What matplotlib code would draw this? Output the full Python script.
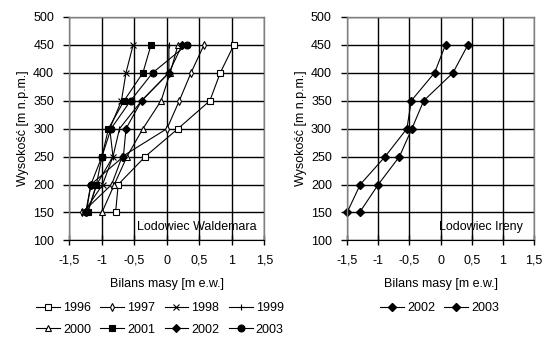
import numpy as np
import matplotlib.pyplot as plt

plt.rcParams['font.family'] = ['Liberation Sans', 'DejaVu Sans']
plt.rcParams['font.size'] = 9

heights = [150, 200, 250, 300, 350, 400, 450]

# Lodowiec Waldemara
wal_years = ['1996', '1997', '1998', '1999', '2000', '2001', '2002', '2003']
wal_1996 = [-0.79, -0.75, -0.335, 0.17, 0.66, 0.82, 1.03]
wal_1997 = [-1.30, -0.85, -0.69, 0.00, 0.19, 0.37, 0.57]
wal_1998 = [-1.28, -0.99, -0.83, -0.88, -0.70, -0.63, -0.52]
wal_1999 = [-1.22, -1.08, -0.83, -0.73, -0.39, 0.03, 0.03]
wal_2000 = [-1.00, -0.81, -0.615, -0.37, -0.09, 0.05, 0.17]
wal_2001 = [-1.22, -1.085, -1.00, -0.90, -0.66, -0.37, -0.245]
wal_2002 = [-1.25, -1.17, -0.67, -0.63, -0.39, 0.03, 0.235]
wal_2003 = [-1.24, -1.17, -1.00, -0.86, -0.56, -0.22, 0.305]
wal_series = [wal_1996, wal_1997, wal_1998, wal_1999, wal_2000, wal_2001, wal_2002, wal_2003]

# Lodowiec Ireny
ire_years = ['2002', '2003']
ire_2002 = [-1.50, -1.29, -0.89, -0.54, -0.47, -0.096, 0.08]
ire_2003 = [-1.30, -1.00, -0.66, -0.46, -0.27, 0.20, 0.44]
ire_series = [ire_2002, ire_2003]

xticks = [-1.5, -1, -0.5, 0, 0.5, 1, 1.5]
xlabels = ['-1,5', '-1', '-0,5', '0', '0,5', '1', '1,5']
yticks = [100, 150, 200, 250, 300, 350, 400, 450, 500]

wal_styles = [
    dict(marker='s', mfc='white', ms=4),
    dict(marker='d', mfc='white', ms=4),
    dict(marker='x', mfc='black', ms=4),
    dict(marker='+', mfc='black', ms=5),
    dict(marker='^', mfc='white', ms=4),
    dict(marker='s', mfc='black', ms=5),
    dict(marker='D', mfc='black', ms=4),
    dict(marker='o', mfc='black', ms=5),
]

fig = plt.figure(figsize=(5.51, 3.53), dpi=100)
ax1 = fig.add_axes([0.126, 0.319, 0.354, 0.633])
ax2 = fig.add_axes([0.630, 0.319, 0.339, 0.633])


def style_axes(ax):
    ax.set_xlim(-1.5, 1.5)
    ax.set_ylim(100, 500)
    ax.set_xticks(xticks)
    ax.set_xticklabels(xlabels)
    ax.set_yticks(yticks)
    ax.grid(True, color='black', lw=1)
    ax.set_axisbelow(True)
    for s in ['top', 'right', 'left']:
        ax.spines[s].set_color('#808080')
        ax.spines[s].set_linewidth(1)
    ax.spines['bottom'].set_color('black')
    ax.tick_params(axis='x', direction='inout', length=7, width=1, pad=7)
    ax.tick_params(axis='y', direction='out', length=4, width=1, pad=7)
    ax.set_xlabel('Bilans masy [m e.w.]', labelpad=8)
    ax.set_ylabel('Wysokość [m n.p.m.]', labelpad=3)


lines = []
for vals, yr, st in zip(wal_series, wal_years, wal_styles):
    ln, = ax1.plot(vals, heights, color='black', lw=0.8, mec='black', mew=0.8,
                   label=yr, clip_on=False, **st)
    lines.append(ln)
style_axes(ax1)
ax1.text(1.38, 124, 'Lodowiec Waldemara', ha='right', va='center')

# row-wise legend order for 4 columns x 2 rows
order = [0, 4, 1, 5, 2, 6, 3, 7]
fig.legend([lines[i] for i in order], [wal_years[i] for i in order],
           loc='center left', bbox_to_anchor=(36 / 551, 1 - 319 / 353), ncol=4,
           frameon=False, handlelength=1.9, handletextpad=0.25, columnspacing=0.75,
           labelspacing=0.75, borderpad=0, borderaxespad=0)

lines2 = []
for vals, yr in zip(ire_series, ire_years):
    ln, = ax2.plot(vals, heights, color='black', lw=0.8, marker='D', ms=4, mfc='black',
                   mec='black', label=yr, clip_on=False)
    lines2.append(ln)
style_axes(ax2)
ax2.text(1.32, 124, 'Lodowiec Ireny', ha='right', va='center')
fig.legend(lines2, ire_years, loc='center left', bbox_to_anchor=(380 / 551, 1 - 308 / 353),
           ncol=2, frameon=False, handlelength=1.9, handletextpad=0.25, columnspacing=0.75,
           borderpad=0, borderaxespad=0)

fig.savefig('out.png', dpi=100)
